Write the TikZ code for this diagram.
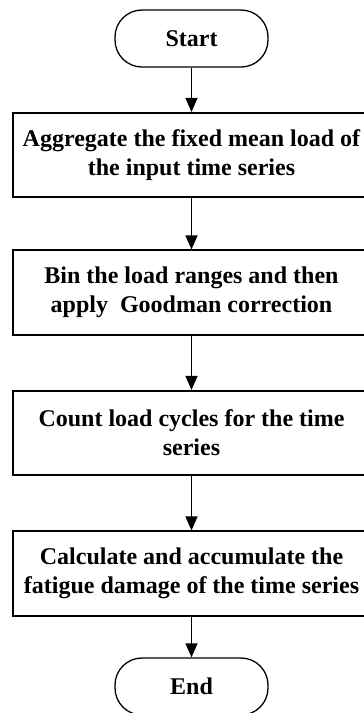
\documentclass[tikz,border=0pt]{standalone}
\usepackage{fontspec}
\setmainfont{Liberation Serif}
\usetikzlibrary{arrows.meta}
\begin{document}
\begin{tikzpicture}[x=1pt,y=-1pt,
  txt/.style={font=\bfseries\fontsize{24}{29}\selectfont, align=center, inner sep=0pt},
  proc/.style={txt, draw, line width=1.6pt, minimum width=357pt, minimum height=84.5pt},
  term/.style={txt, draw, line width=1.3pt, rounded corners=27pt, minimum width=153pt, minimum height=57pt},
  arr/.style={line width=1.3pt, -{Triangle[length=14pt,width=12pt]}}]
\useasboundingbox (0,0) rectangle (364,713);
\node[term] (s) at (191.5,38.5) {Start};
\node[proc] (b1) at (191.5,155) {Aggregate the fixed mean load of\\the input time series};
\node[proc] (b2) at (191.5,292.5) {Bin the load ranges and then\\apply\ \ Goodman correction};
\node[proc] (b3) at (191.5,433) {Count load cycles for the time\\series};
\node[proc] (b4) at (191.5,573.5) {Calculate and accumulate the\\fatigue damage of the time series};
\node[term] (e) at (191.5,686.5) {End};
\draw[arr] (s) -- (b1);
\draw[arr] (b1) -- (b2);
\draw[arr] (b2) -- (b3);
\draw[arr] (b3) -- (b4);
\draw[arr] (b4) -- (e);
\end{tikzpicture}
\end{document}
